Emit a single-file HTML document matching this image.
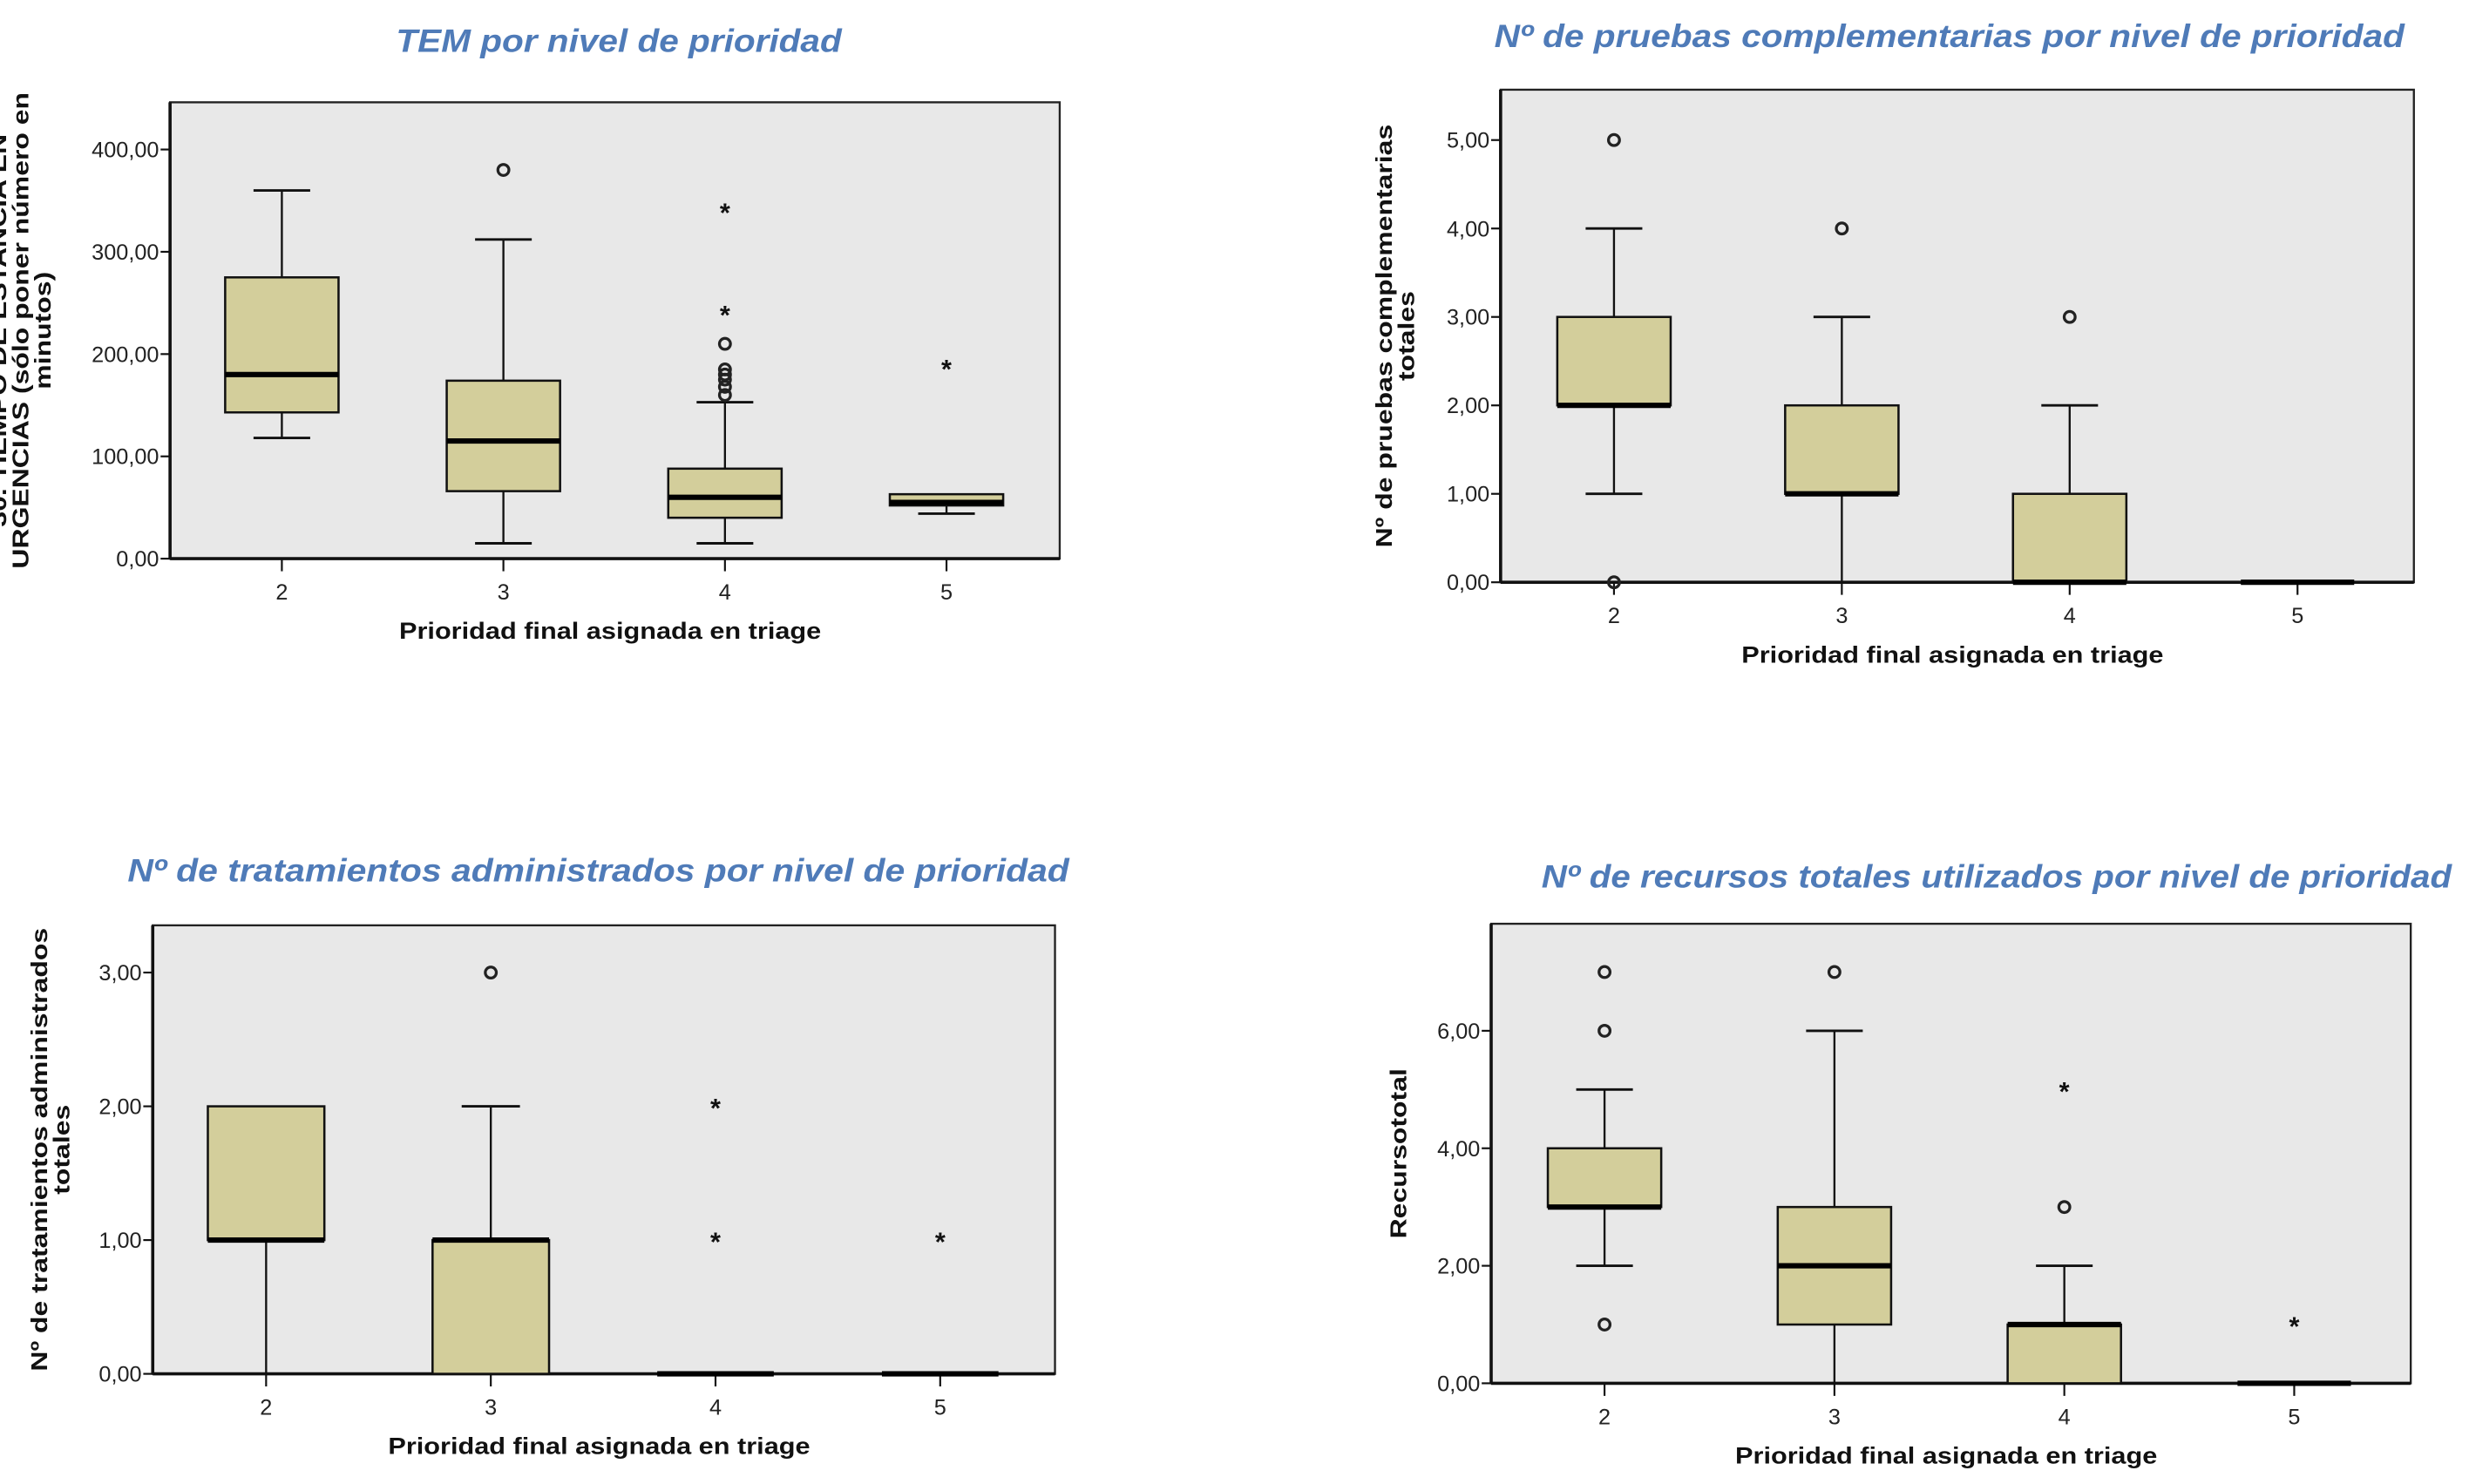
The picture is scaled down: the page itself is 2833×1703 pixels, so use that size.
<!DOCTYPE html>
<html><head><meta charset="utf-8">
<style>
html,body{margin:0;padding:0;background:#fff;}
svg{display:block;}
text{font-family:"Liberation Sans",sans-serif;}
.ttl{font-family:"Liberation Sans",sans-serif;font-style:italic;font-weight:bold;fill:#4f7bb8;font-size:20.5px;}
.tick{font-family:"Liberation Sans Narrow","Liberation Sans",sans-serif;font-size:14px;fill:#222;}
.axt{font-family:"Liberation Sans Narrow","Liberation Sans",sans-serif;font-size:15px;font-weight:bold;fill:#111;}
.yt{font-size:14.5px;font-weight:bold;fill:#111;}
</style></head>
<body>
<svg id="root" width="2833" height="1703" viewBox="0 0 1568 943" preserveAspectRatio="none"></svg>
<script>
// ---- shared categories ----
const categories = ["2","3","4","5"];

// Chart 1: TEM (minutes)
const c1Ticks = [0,100,200,300,400];
const c1Lo  = [118, 15, 15, 44];
const c1Q1  = [143, 66, 40, 52];
const c1Med = [180,115, 60, 55];
const c1Q3  = [275,174, 88, 63];
const c1Hi  = [360,312,153, 63];
const c1Out = [[],[380],[160,168,175,180,185,210],[]];
const c1Ext = [[],[],[240,340],[187]];

// Chart 2: pruebas complementarias
const c2Ticks = [0,1,2,3,4,5];
const c2Lo  = [1,0,0,0];
const c2Q1  = [2,1,0,0];
const c2Med = [2,1,0,0];
const c2Q3  = [3,2,1,0];
const c2Hi  = [4,3,2,0];
const c2Out = [[0,5],[4],[3],[]];
const c2Ext = [[],[],[],[]];

// Chart 3: tratamientos
const c3Ticks = [0,1,2,3];
const c3Lo  = [0,0,0,0];
const c3Q1  = [1,0,0,0];
const c3Med = [1,1,0,0];
const c3Q3  = [2,1,0,0];
const c3Hi  = [2,2,0,0];
const c3Out = [[],[3],[],[]];
const c3Ext = [[],[],[1,2],[1]];

// Chart 4: recursos totales
const c4Ticks = [0,2,4,6];
const c4Lo  = [2,0,0,0];
const c4Q1  = [3,1,0,0];
const c4Med = [3,2,1,0];
const c4Q3  = [4,3,1,0];
const c4Hi  = [5,6,2,0];
const c4Out = [[1,6,7],[7],[3],[]];
const c4Ext = [[],[],[5],[1]];

const NS="http://www.w3.org/2000/svg";
const root=document.getElementById('root');
function mk(tag,attrs,parent){const e=document.createElementNS(NS,tag);for(const k in attrs)e.setAttribute(k,attrs[k]);(parent||root).appendChild(e);return e;}

function chart(cfg){
  const g=mk('g',{});
  
  
  const y=v=>cfg.y0-(v-cfg.vmin)*(cfg.y0-cfg.yTop)/(cfg.vmax-cfg.vmin);
  const x=i=>cfg.xs+i*cfg.dx;
  const t=mk('text',{x:cfg.tx,y:cfg.ty,'text-anchor':'middle',class:'ttl',textLength:cfg.tw,lengthAdjust:'spacingAndGlyphs'},g);t.textContent=cfg.title;
  
  
  const fr=mk('rect',{x:cfg.L,y:cfg.T,width:cfg.R-cfg.L,height:cfg.y0-cfg.T,fill:'#e8e8e8',stroke:'#222','stroke-width':1.3},g);
  
  
  mk('line',{x1:cfg.L,y1:cfg.y0,x2:cfg.R,y2:cfg.y0,stroke:'#111','stroke-width':2},g);
  mk('line',{x1:cfg.L,y1:cfg.T,x2:cfg.L,y2:cfg.y0,stroke:'#111','stroke-width':2},g);
  cfg.ticks.forEach(v=>{
    mk('line',{x1:cfg.L-6,y1:y(v),x2:cfg.L,y2:y(v),stroke:'#111','stroke-width':1.2},g);
    const tl=mk('text',{x:cfg.L-7,y:y(v)+5,'text-anchor':'end',class:'tick'},g);
    tl.textContent=v.toFixed(2).replace('.',',');
    
    
  });
  categories.forEach((c,i)=>{
    mk('line',{x1:x(i),y1:cfg.y0,x2:x(i),y2:cfg.y0+8,stroke:'#111','stroke-width':1.2},g);
    const tl=mk('text',{x:x(i),y:cfg.y0+26,'text-anchor':'middle',class:'tick'},g);
    tl.textContent=c;
    
    
  });
  const xl=mk('text',{x:(cfg.L+cfg.R)/2-3,y:cfg.y0+51,'text-anchor':'middle',class:'axt',textLength:268,lengthAdjust:'spacingAndGlyphs'},g);
  xl.textContent='Prioridad final asignada en triage';
  
  
  const cy=(cfg.T+cfg.y0)/2;
  cfg.ylab.forEach((s,k)=>{
    const lx=cfg.ylx+k*14;
    const yt=mk('text',{x:lx,y:cy,'text-anchor':'middle',class:'yt',transform:`rotate(-90 ${lx} ${cy})`},g);
    yt.textContent=s;
    const n=yt.getComputedTextLength();
    yt.setAttribute('textLength',(n*1.22).toFixed(1));
    yt.setAttribute('lengthAdjust','spacingAndGlyphs');
    
    
  });
  const hw=cfg.bw/2, cw=cfg.bw/4;
  categories.forEach((c,i)=>{
    const cx=x(i);
    const bg=mk('g',{},g);
    
    
    const lo=cfg.lo[i],q1=cfg.q1[i],md=cfg.med[i],q3=cfg.q3[i],hi=cfg.hi[i];
    if(hi>q3){mk('line',{x1:cx,y1:y(q3),x2:cx,y2:y(hi),stroke:'#111','stroke-width':1.3},bg);
      mk('line',{x1:cx-cw,y1:y(hi),x2:cx+cw,y2:y(hi),stroke:'#111','stroke-width':1.6},bg);}
    if(lo<q1){mk('line',{x1:cx,y1:y(q1),x2:cx,y2:y(lo),stroke:'#111','stroke-width':1.3},bg);
      if(lo>cfg.vmin) mk('line',{x1:cx-cw,y1:y(lo),x2:cx+cw,y2:y(lo),stroke:'#111','stroke-width':1.6},bg);}
    if(q3>q1) mk('rect',{x:cx-hw,y:y(q3),width:cfg.bw,height:y(q1)-y(q3),fill:'#d3ce9b',stroke:'#111','stroke-width':1.4},bg);
    mk('line',{x1:cx-hw,y1:y(md),x2:cx+hw,y2:y(md),stroke:'#000','stroke-width':3.4},bg);
    cfg.out[i].forEach(v=>{
      const o=mk('circle',{cx:cx,cy:y(v),r:3.5,fill:'none',stroke:'#222','stroke-width':1.8},bg);
      
      
    });
    cfg.ext[i].forEach(v=>{
      const s=mk('text',{x:cx,y:y(v)+7,'text-anchor':'middle','font-size':'17px','font-weight':'bold',fill:'#111'},bg);
      s.textContent='*';
      
      
    });
  });
}

chart({name:'chart-tem',title:'TEM por nivel de prioridad',tx:393,ty:33,tw:283,L:108,R:673,T:65,y0:355,yTop:95,vmin:0,vmax:400,
  xs:179,dx:140.7,bw:72,ticks:c1Ticks,lo:c1Lo,q1:c1Q1,med:c1Med,q3:c1Q3,hi:c1Hi,out:c1Out,ext:c1Ext,
  ylab:['30. TIEMPO DE ESTANCIA EN','URGENCIAS (sólo poner número en','minutos)'],ylx:4});
chart({name:'chart-pruebas',title:'Nº de pruebas complementarias por nivel de prioridad',tx:1238,ty:30,tw:578,L:953,R:1533,T:57,y0:370,yTop:89,vmin:0,vmax:5,
  xs:1025,dx:144.7,bw:72,ticks:c2Ticks,lo:c2Lo,q1:c2Q1,med:c2Med,q3:c2Q3,hi:c2Hi,out:c2Out,ext:c2Ext,
  ylab:['Nº de pruebas complementarias','totales'],ylx:884});
chart({name:'chart-tratamientos',title:'Nº de tratamientos administrados por nivel de prioridad',tx:380,ty:560,tw:598,L:97,R:670,T:588,y0:873,yTop:618,vmin:0,vmax:3,
  xs:169,dx:142.7,bw:74,ticks:c3Ticks,lo:c3Lo,q1:c3Q1,med:c3Med,q3:c3Q3,hi:c3Hi,out:c3Out,ext:c3Ext,
  ylab:['Nº de tratamientos administrados','totales'],ylx:30});
chart({name:'chart-recursos',title:'Nº de recursos totales utilizados por nivel de prioridad',tx:1268,ty:564,tw:578,L:947,R:1531,T:587,y0:879,yTop:655,vmin:0,vmax:6,
  xs:1019,dx:146,bw:72,ticks:c4Ticks,lo:c4Lo,q1:c4Q1,med:c4Med,q3:c4Q3,hi:c4Hi,out:c4Out,ext:c4Ext,
  ylab:['Recursototal'],ylx:893});
</script>
</body></html>
